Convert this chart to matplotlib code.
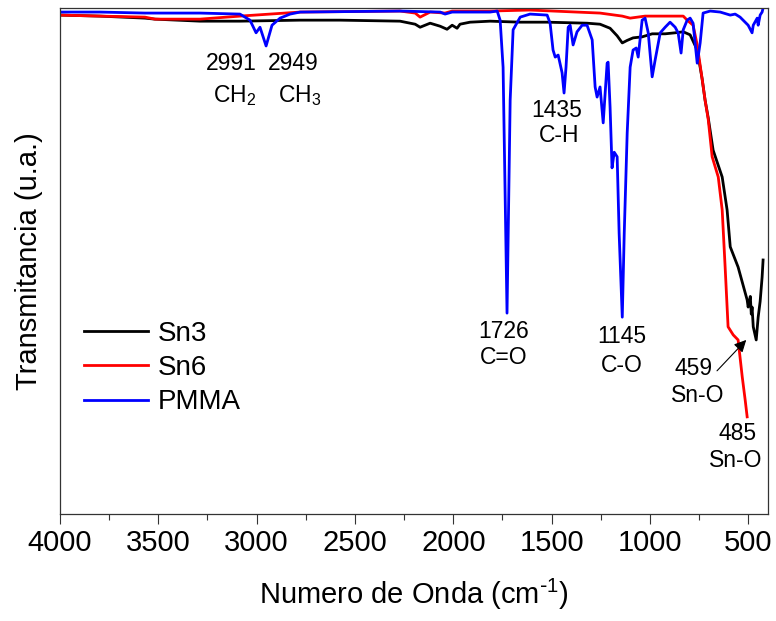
import matplotlib
matplotlib.use("Agg")
import matplotlib.pyplot as plt

plt.rcParams.update({
    "font.family": ["Liberation Sans", "DejaVu Sans"],
    "mathtext.default": "regular",
})

sn3_w = [4000, 3797, 3568, 3517, 3288, 3085, 2779, 2576, 2271, 2194, 2169, 2118,
         2067, 2032, 2006, 1981, 1966, 1915, 1813, 1660, 1523, 1320, 1254, 1203,
         1167, 1141, 1116, 1086, 1040, 989, 923, 872, 831, 796, 760, 735, 720,
         704, 679, 633, 608, 592, 552, 506, 501, 490, 485, 481, 475, 460, 450,
         440, 430, 425]
sn3_t = [98.6, 98.4, 98.0, 97.8, 97.4, 97.4, 97.6, 97.6, 97.4, 96.8, 96.2, 97.0,
         96.4, 95.8, 96.6, 96.0, 96.8, 97.2, 97.4, 97.2, 97.2, 97.0, 96.8, 96.0,
         94.5, 93.1, 93.6, 94.1, 94.3, 94.9, 94.9, 95.1, 95.3, 94.7, 91.7, 86.0,
         81.8, 78.3, 71.9, 66.6, 60.1, 52.8, 48.8, 42.3, 40.9, 43.0, 39.5, 40.9,
         37.0, 34.4, 38.9, 42.0, 46.8, 50.2]

sn6_w = [4000, 3797, 3568, 3517, 3288, 3085, 2779, 2271, 2194, 2169, 2118, 2042,
         2006, 1813, 1610, 1493, 1254, 1141, 1101, 1025, 898, 831, 811, 781, 760,
         735, 720, 704, 684, 653, 633, 618, 603, 577, 552, 531, 516, 506]
sn6_t = [98.6, 98.4, 98.2, 97.8, 97.8, 98.4, 99.2, 99.4, 99.0, 98.2, 99.2, 99.0,
         99.4, 99.4, 99.6, 99.4, 99.0, 98.4, 98.0, 98.4, 98.4, 98.4, 97.6, 96.6,
         92.7, 86.0, 81.8, 78.0, 70.6, 66.6, 60.1, 48.8, 37.0, 35.4, 34.4, 27.1,
         22.5, 19.2]

pmma_w = [4000, 3797, 3568, 3288, 3085, 3034, 3003, 2983, 2952, 2922, 2881, 2830,
          2779, 2271, 2067, 2042, 2006, 1813, 1777, 1762, 1747, 1727, 1711, 1696,
          1660, 1610, 1523, 1508, 1493, 1482, 1467, 1447, 1437, 1427, 1416, 1406,
          1391, 1371, 1345, 1320, 1294, 1279, 1269, 1254, 1238, 1218, 1213, 1203,
          1193, 1182, 1167, 1157, 1141, 1131, 1116, 1101, 1086, 1070, 1060, 1040,
          1025, 1009, 989, 974, 948, 923, 898, 872, 857, 842, 831, 811, 796, 781,
          760, 745, 730, 694, 643, 592, 567, 542, 501, 481, 475, 455, 450, 440,
          430, 425]
pmma_t = [99.2, 99.2, 99.0, 99.0, 98.8, 97.6, 95.1, 96.2, 92.5, 96.6, 98.0, 98.8,
          99.2, 99.4, 99.2, 98.8, 99.2, 99.2, 99.4, 97.6, 88.3, 39.7, 81.8, 95.7,
          98.2, 98.8, 98.6, 97.0, 91.7, 90.3, 90.7, 87.2, 83.2, 88.3, 96.2, 96.6,
          92.7, 95.3, 96.6, 96.6, 93.7, 84.4, 82.4, 84.4, 77.3, 89.1, 89.3, 80.4,
          68.4, 71.5, 70.6, 55.5, 38.9, 55.5, 75.3, 88.3, 91.7, 92.1, 90.3, 97.6,
          98.0, 95.1, 86.4, 89.7, 95.1, 96.2, 97.2, 96.2, 95.1, 91.1, 95.7, 97.6,
          98.0, 97.0, 89.1, 93.1, 99.0, 99.4, 99.2, 98.6, 98.8, 98.2, 96.6, 95.1,
          96.6, 98.0, 96.6, 98.6, 99.2, 100.0]

# etiquetas de bandas: (texto, x, y de la línea base)
LABELS = [
    ("2991", 3130, 87.7), ("CH$_2$", 3110, 81.4),
    ("2949", 2815, 87.7), ("CH$_3$", 2779, 81.4),
    ("1435", 1472, 78.5), ("C-H", 1462, 73.5),
    ("1726", 1742, 34.8), ("C=O", 1742, 29.6),
    ("1145", 1142, 33.8), ("C-O", 1142, 28.1),
    ("459", 780, 27.5), ("Sn-O", 755, 22.1),
    ("485", 557, 14.6), ("Sn-O", 562, 9.3),
]

fig = plt.figure(figsize=(7.76, 6.21), dpi=100)
ax = fig.add_axes([0.0773, 0.1723, 0.9124, 0.8148])

ax.plot(sn3_w, sn3_t, color="black", lw=2, label="Sn3")
ax.plot(sn6_w, sn6_t, color="red", lw=2, label="Sn6")
ax.plot(pmma_w, pmma_t, color="blue", lw=2, label="PMMA")

for txt, x, y in LABELS:
    ax.text(x, y, txt, ha="center", va="baseline", fontsize=16.5)

ax.annotate("", xy=(501, 34.8), xytext=(669, 27.9),
            arrowprops=dict(arrowstyle="-|>", color="black", lw=0.8,
                            mutation_scale=18))

ax.set_xlim(4000, 400)
ax.set_ylim(0, 100)
ax.set_xticks(range(4000, 400, -500))
ax.set_xticks(range(3750, 400, -500), minor=True)
ax.set_yticks([])
ax.tick_params(axis="x", which="major", direction="out", length=7, width=0.8,
               labelsize=21, colors="#333333", labelcolor="black", pad=4)
ax.tick_params(axis="x", which="minor", direction="out", length=4, width=0.8,
               colors="#333333")
for s in ax.spines.values():
    s.set_color("#333333")
    s.set_linewidth(0.9)

ax.set_xlabel(r"Numero de Onda (cm$^{\text{-}1}$)", fontsize=21, labelpad=14)
ax.set_ylabel("Transmitancia (u.a.)", fontsize=21, labelpad=12)

ax.legend(loc="center left", bbox_to_anchor=(0.034, 0.2885), frameon=False,
          fontsize=20, handlelength=2.3, handletextpad=0.35, labelspacing=0.3,
          borderpad=0, borderaxespad=0)

fig.savefig("out.png", dpi=100)
